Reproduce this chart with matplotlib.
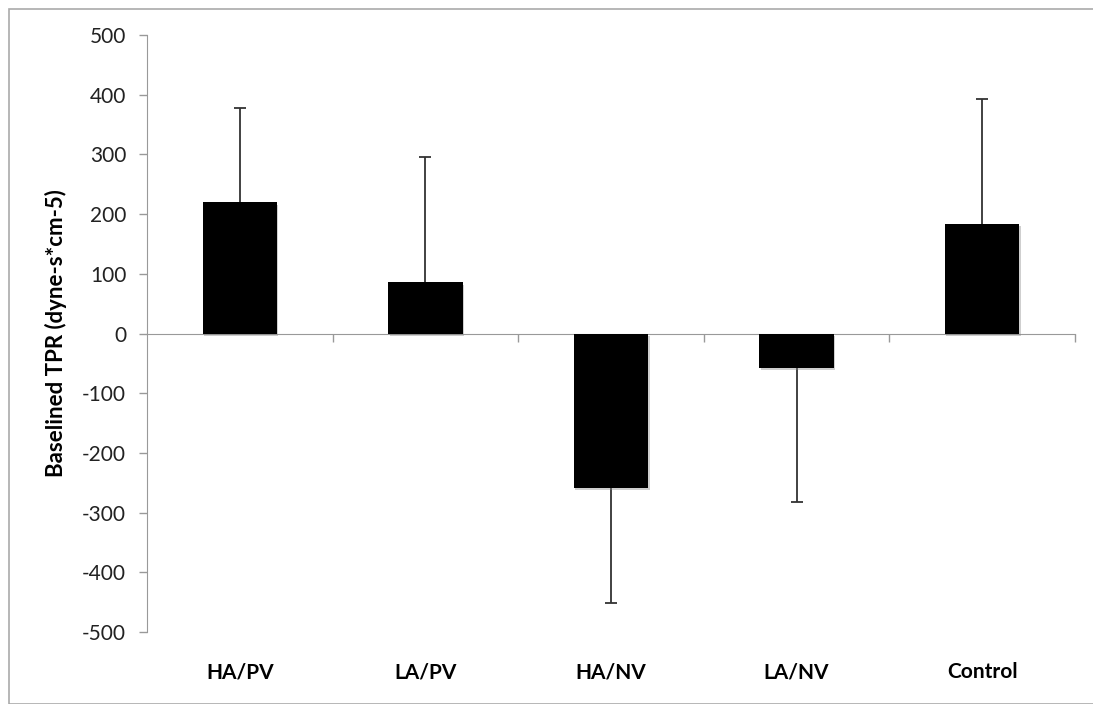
import matplotlib.pyplot as plt
import matplotlib.patches as mpatches
import matplotlib.patheffects as pe
import numpy as np

groups = ["HA/PV", "LA/PV", "HA/NV", "LA/NV", "Control"]
tpr = [220, 86, -258, -57, 184]
err = [158, 210, 193, 226, 209]

plt.rcParams['font.family'] = ['Lato', 'DejaVu Sans']
plt.rcParams['axes.unicode_minus'] = False

fig = plt.figure(figsize=(10.93, 7.04), dpi=100)
ax = fig.add_axes([147/1093, 1 - 632/704, (1075 - 147)/1093, (632 - 35)/704])

x = np.arange(len(groups))
bars = ax.bar(x, tpr, width=0.4, color='black', zorder=3)
for b in bars:
    b.set_path_effects([pe.SimplePatchShadow(offset=(1, -2), shadow_rgbFace='#888888', alpha=0.4), pe.Normal()])

# one-sided error bars, pointing away from zero
ends = [v + e if v >= 0 else v - e for v, e in zip(tpr, err)]
ax.vlines(x, tpr, ends, color='#333333', linewidth=1.3, zorder=2)
ax.plot(x, ends, linestyle='none', marker='_', markersize=8, markeredgewidth=1.3,
        color='#333333', zorder=2)

ax.set_xlim(-0.5, len(groups) - 0.5)
ax.set_ylim(-500, 500)
ax.set_yticks(np.arange(-500, 501, 100))
ax.tick_params(axis='y', direction='out', length=6, color='#999999', width=1,
               labelsize=15, labelcolor='#222222', pad=9)

ax.spines['top'].set_visible(False)
ax.spines['right'].set_visible(False)
ax.spines['left'].set_color('#999999')
ax.spines['bottom'].set_color('#999999')
ax.spines['bottom'].set_position(('data', 0))

ax.set_xticks(np.arange(0.5, len(groups), 1.0))
ax.set_xticklabels([])
ax.tick_params(axis='x', direction='out', length=6, color='#999999', width=1)

for i, g in enumerate(groups):
    ax.annotate(g, xy=(i, 0), xycoords=('data', 'axes fraction'),
                xytext=(0, -29), textcoords='offset points',
                ha='center', va='center', fontsize=15, fontweight='bold')

ax.set_ylabel("Baselined TPR (dyne-s*cm-5)", fontsize=16, fontweight='bold')
ax.yaxis.set_label_coords(-(147 - 67)/928, 0.5)

fig.patches.append(mpatches.Rectangle((9/1093, 0), 1, 1 - 9/704, transform=fig.transFigure,
                                      fill=False, edgecolor='#aaaaaa', linewidth=1.2))

fig.savefig("out.png", dpi=100)
